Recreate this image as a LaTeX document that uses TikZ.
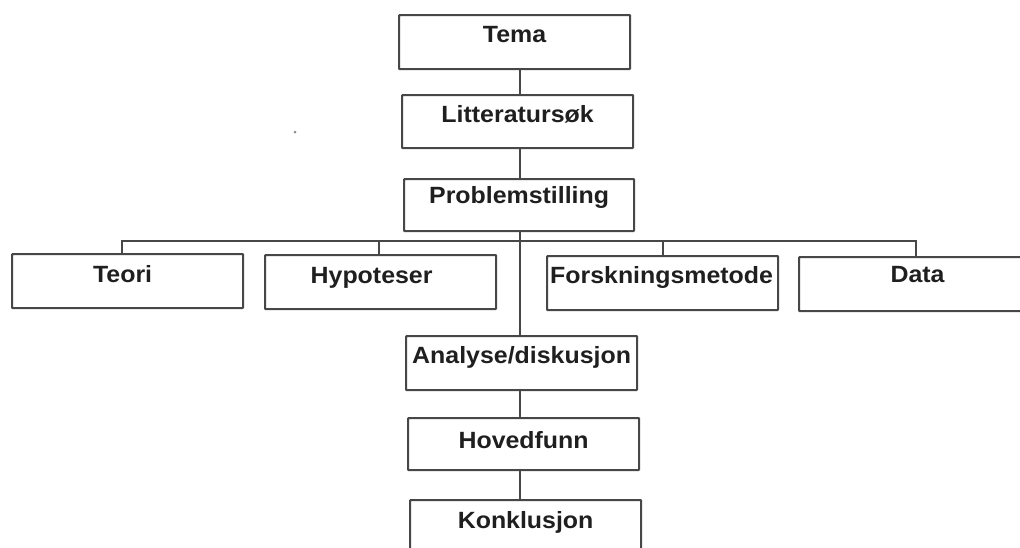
\documentclass[tikz,border=0pt]{standalone}
\usepackage{fontspec}
\setmainfont{Liberation Sans}[FakeStretch=1.06]
\begin{document}
\begin{tikzpicture}[x=1pt,y=-1pt,
  box/.style={draw=black!72, line width=2.2pt, rounded corners=0.8pt, fill=white,
    minimum width=231pt, minimum height=54pt, inner sep=0pt, anchor=north west},
  lbl/.style={anchor=base, inner sep=0pt, text=black!88,
    font=\fontsize{23.5}{28}\selectfont\bfseries},
  link/.style={draw=black!72, line width=2.2pt}]
\path[use as bounding box] (0,0) rectangle (1020,547);
\clip (0,0) rectangle (1020,547);

% boxes (top-left corners)
\node[box] (tema)    at (398,14)  {};
\node[box, minimum height=53pt] (lit) at (401,94) {};
\node[box, minimum width=230pt, minimum height=52pt] (prob) at (403,178) {};
\node[box] (teori)   at (11,253)  {};
\node[box] (hyp)     at (264,254) {};
\node[box] (forsk)   at (546,255) {};
\node[box, minimum width=233pt] (data) at (798,256) {};
\node[box] (analyse) at (405,335) {};
\node[box, minimum height=52pt] (hoved) at (407,417) {};
\node[box, minimum height=70pt] (konk) at (409,499) {};

% labels, baseline measured down from each box top
\node[lbl] at ([yshift=-28]tema.north)          {Tema};
\node[lbl] at ([yshift=-28]lit.north)           {Litteratursøk};
\node[lbl] at ([yshift=-25]prob.north)          {Problemstilling};
\node[lbl] at ([xshift=-5,yshift=-29]teori.north) {Teori};
\node[lbl] at ([xshift=-9,yshift=-29]hyp.north)   {Hypoteser};
\node[lbl] at ([xshift=-1,yshift=-28]forsk.north) {Forskningsmetode};
\node[lbl] at ([xshift=2,yshift=-26]data.north) {Data};
\node[lbl] at ([yshift=-28]analyse.north)       {Analyse/diskusjon};
\node[lbl] at ([yshift=-31]hoved.north)         {Hovedfunn};
\node[lbl] at ([yshift=-29]konk.north)          {Konklusjon};

% connectors
\coordinate (bus) at (520,241);
\draw[link] (tema.south -| bus) -- (lit.north -| bus);
\draw[link] (lit.south -| bus) -- (prob.north -| bus);
\draw[link] (prob.south -| bus) -- (analyse.north -| bus);
\draw[link] ([xshift=-5.5]teori.north) |- (bus) -| (data.north);
\draw[link] ([xshift=-1.5]hyp.north) |- (bus);
\draw[link] (forsk.north) |- (bus);
\draw[link] (analyse.south -| bus) -- (hoved.north -| bus);
\draw[link] (hoved.south -| bus) -- (konk.north -| bus);

% small stray speck
\fill[black!45] (295,132) circle (1.5pt);
\end{tikzpicture}
\end{document}
